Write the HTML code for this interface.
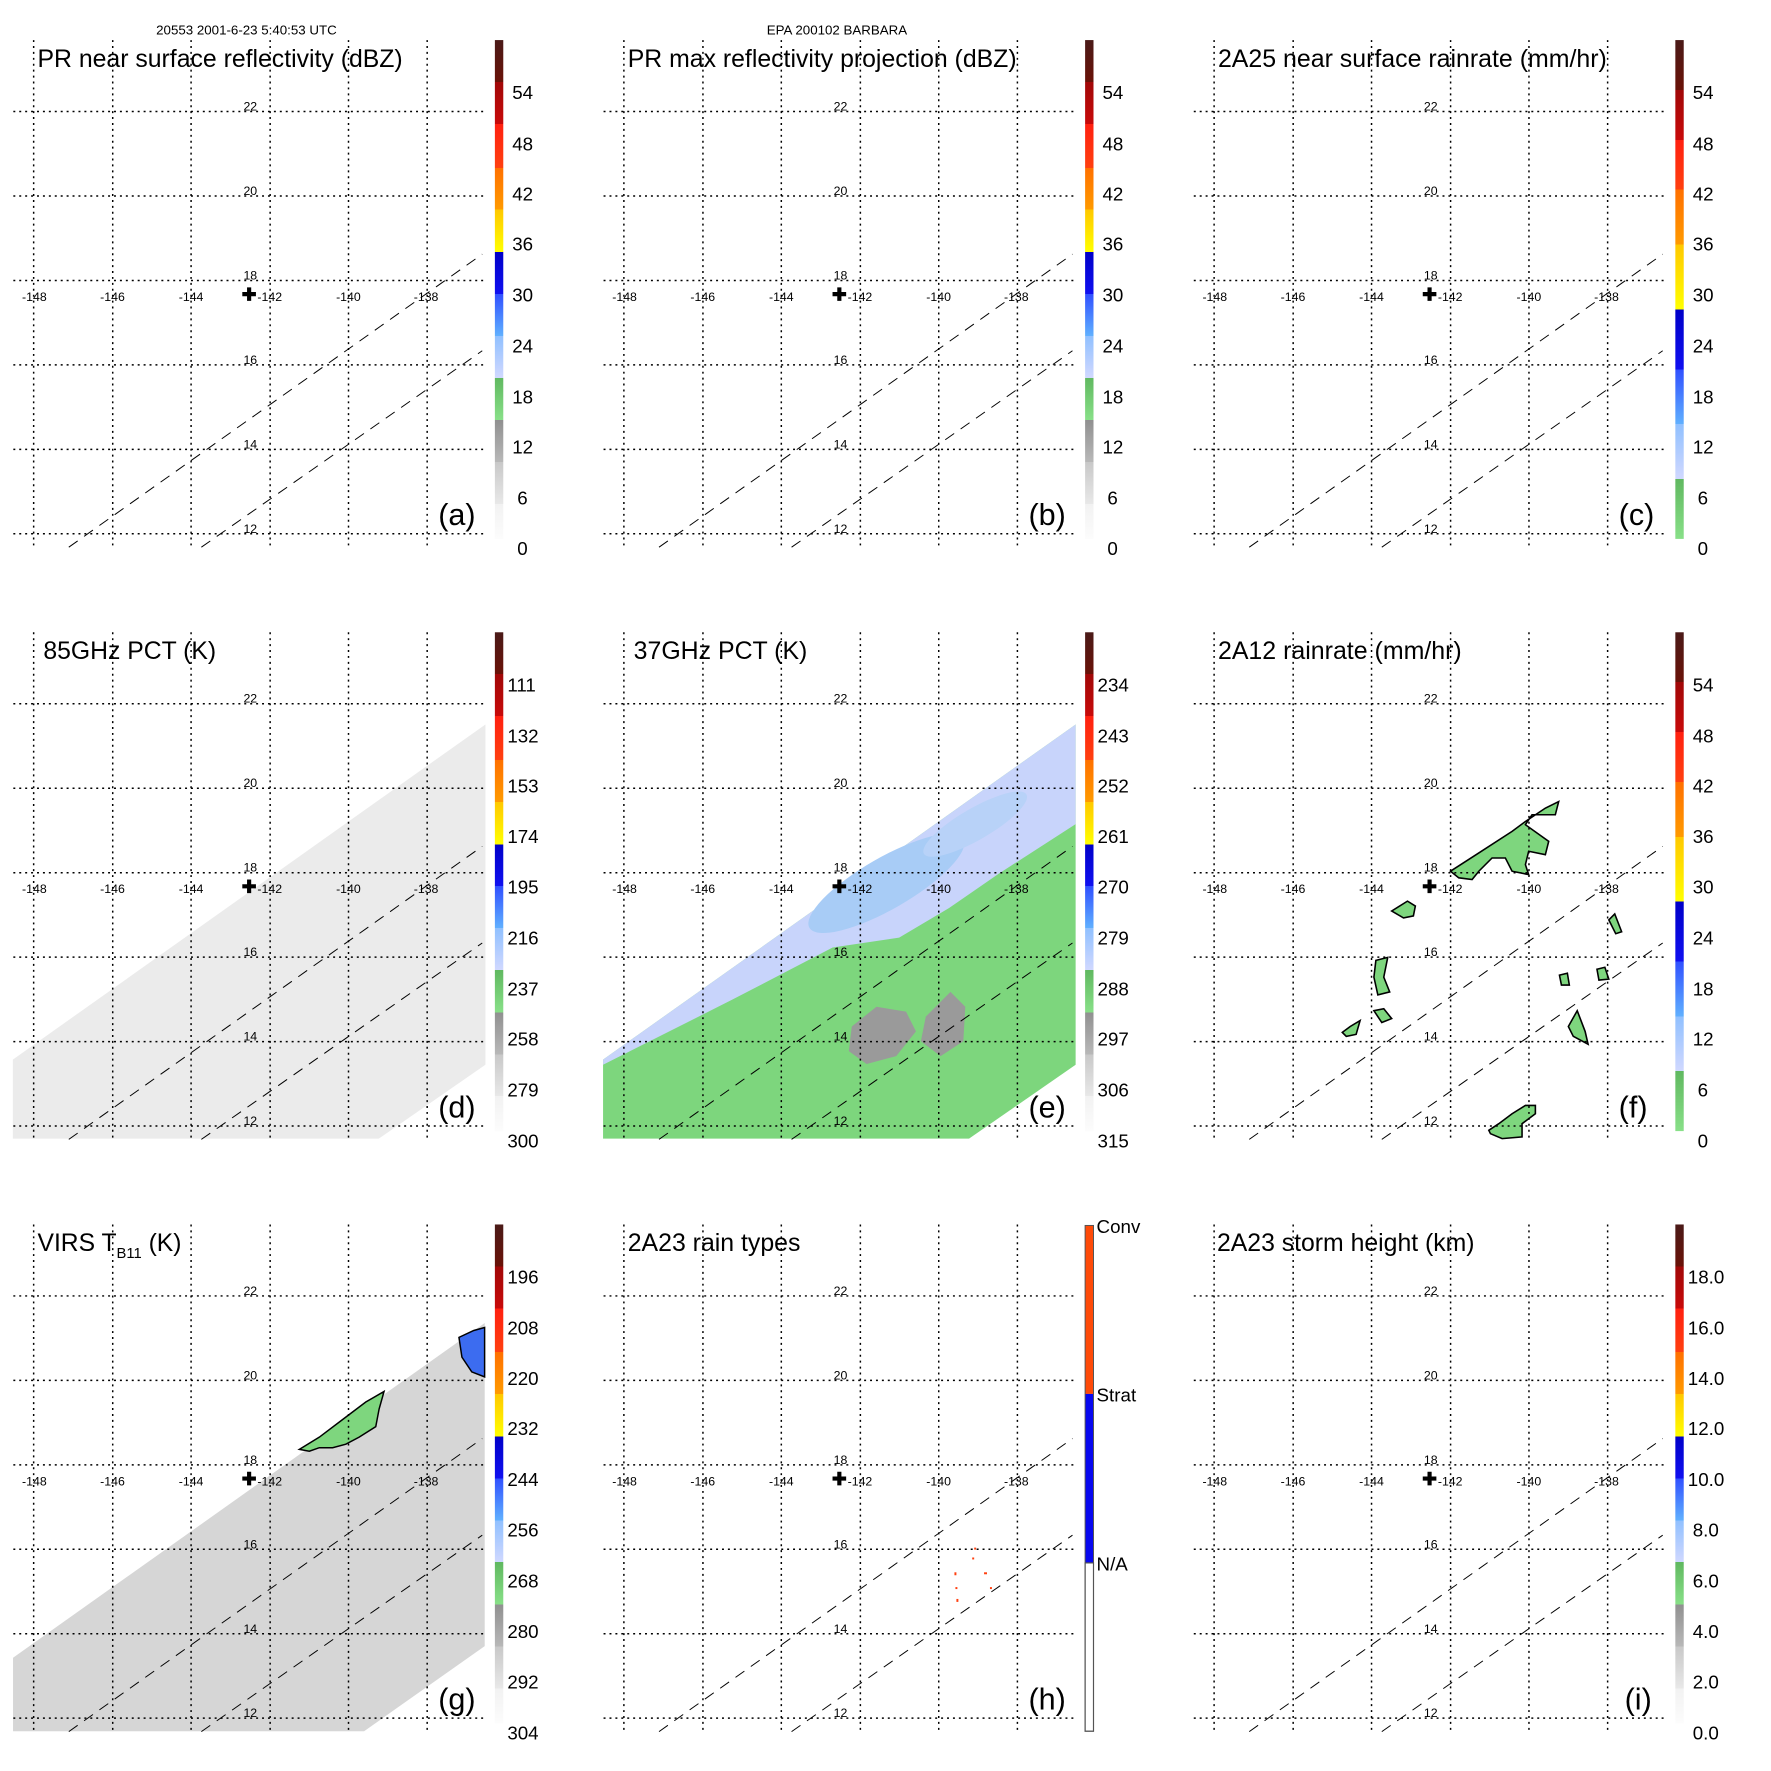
<!DOCTYPE html>
<html><head><meta charset="utf-8"><style>
html,body{margin:0;padding:0;background:#fff}
svg{display:block}
text{font-family:"Liberation Sans",Arial,sans-serif;fill:#000}
.s{font-size:12.5px;text-anchor:middle}
.c{font-size:19px}
.t{font-size:25px}
.l{font-size:31px}
.h{font-size:13.5px;text-anchor:middle}
</style></head><body>
<svg width="1771" height="1771" viewBox="0 0 1771 1771" xmlns="http://www.w3.org/2000/svg">
<defs>
<linearGradient id="gz" x1="0" y1="0" x2="0" y2="1">
<stop offset="0" stop-color="#4a1a18"/><stop offset=".084" stop-color="#6a1208"/>
<stop offset=".084" stop-color="#a00808"/><stop offset=".168" stop-color="#c80a0a"/>
<stop offset=".168" stop-color="#ff2010"/><stop offset=".256" stop-color="#ff4010"/>
<stop offset=".256" stop-color="#ff7000"/><stop offset=".34" stop-color="#ff9a00"/>
<stop offset=".34" stop-color="#ffc800"/><stop offset=".425" stop-color="#ffff00"/>
<stop offset=".425" stop-color="#0000c8"/><stop offset=".509" stop-color="#1010f0"/>
<stop offset=".509" stop-color="#3050ff"/><stop offset=".593" stop-color="#60b0ff"/>
<stop offset=".593" stop-color="#90c0ff"/><stop offset=".677" stop-color="#d0d8ff"/>
<stop offset=".677" stop-color="#60b860"/><stop offset=".762" stop-color="#88e088"/>
<stop offset=".762" stop-color="#909090"/><stop offset=".846" stop-color="#b8b8b8"/>
<stop offset=".846" stop-color="#c8c8c8"/><stop offset=".93" stop-color="#e8e8e8"/>
<stop offset=".93" stop-color="#f2f2f2"/><stop offset="1" stop-color="#fcfcfc"/>
</linearGradient>
<linearGradient id="gr" x1="0" y1="0" x2="0" y2="1">
<stop offset="0" stop-color="#4a1a18"/><stop offset=".1" stop-color="#6a1208"/>
<stop offset=".1" stop-color="#a00808"/><stop offset=".2" stop-color="#c80a0a"/>
<stop offset=".2" stop-color="#ff2010"/><stop offset=".3" stop-color="#ff4010"/>
<stop offset=".3" stop-color="#ff7000"/><stop offset=".41" stop-color="#ff9a00"/>
<stop offset=".41" stop-color="#ffc800"/><stop offset=".54" stop-color="#ffff00"/>
<stop offset=".54" stop-color="#0000c8"/><stop offset=".66" stop-color="#1010f0"/>
<stop offset=".66" stop-color="#3050ff"/><stop offset=".77" stop-color="#60b0ff"/>
<stop offset=".77" stop-color="#90c0ff"/><stop offset=".88" stop-color="#d0d8ff"/>
<stop offset=".88" stop-color="#60b860"/><stop offset="1" stop-color="#88e088"/>
</linearGradient>
<g id="grid" fill="none" stroke="#000">
<g stroke-width="1.5" stroke-dasharray="2,4">
<line x1="34.1" y1="40.6" x2="34.1" y2="554.4"/><line x1="114.2" y1="40.6" x2="114.2" y2="554.4"/>
<line x1="193.6" y1="40.6" x2="193.6" y2="554.4"/><line x1="273.7" y1="40.6" x2="273.7" y2="554.4"/>
<line x1="353.1" y1="40.6" x2="353.1" y2="554.4"/><line x1="432.8" y1="40.6" x2="432.8" y2="554.4"/>
<line x1="13.5" y1="113" x2="491.7" y2="113"/><line x1="13.5" y1="198.6" x2="491.7" y2="198.6"/>
<line x1="13.5" y1="284.2" x2="491.7" y2="284.2"/><line x1="13.5" y1="369.7" x2="491.7" y2="369.7"/>
<line x1="13.5" y1="455.3" x2="491.7" y2="455.3"/><line x1="13.5" y1="540.8" x2="491.7" y2="540.8"/>
</g>
<g stroke-width="1" stroke-dasharray="11,8">
<line x1="69.7" y1="554.4" x2="488.6" y2="257.5"/>
<line x1="204" y1="554.4" x2="488.6" y2="355.4"/>
</g>
<path d="M245.5 298H259.3M252.4 291.1V304.9" stroke-width="4.2"/>
</g>
</defs>
<rect width="1771" height="1771" fill="#fff"/>
<g transform="scale(0.987)">

<g transform="translate(0,600)">
<polygon points="13,473.6 491.8,134 491.8,478.8 383.8,553.6 13,553.6" fill="#ebebeb"/>
</g>
<g transform="translate(598,600)">
<polygon points="13,473.6 491.8,134 491.8,478.8 383.8,553.6 13,553.6" fill="#7dd67d"/>
<polygon points="13,473.6 491.8,134 491.8,235 414.2,285 363.6,320 313,350 245.6,360 144.4,412.6 13,478.8" fill="#c8d4fb"/>
<ellipse cx="300" cy="295" rx="90" ry="26" transform="rotate(-30 300 295)" fill="#a8ccf6"/>
<ellipse cx="390" cy="235" rx="60" ry="16" transform="rotate(-30 390 235)" fill="#b8d2f8"/>
<polygon points="265,440 290,420 320,425 330,445 310,470 280,478 262,465" fill="#9a9a9a"/>
<polygon points="340,430 365,405 380,420 378,455 355,470 335,455" fill="#9a9a9a"/>
</g>
<g transform="translate(0,1200)">
<polygon points="13.2,479.6 491.1,140.4 491.1,467.8 368.9,554 13.2,554" fill="#d6d6d6"/>
<polygon points="303.3,268.5 323.5,256.1 347,238.3 370.6,220.5 389.1,209.8 384.1,227.6 380.7,245.4 363.9,256.1 350.4,263.2 337,266.8 323.5,266.8 313.4,270.3" fill="#7ed67e" stroke="#000" stroke-width="1.5"/>
<polygon points="465,155 480,148 491,145 491,195 478,190 468,175" fill="#3c6cf0" stroke="#000" stroke-width="1.5"/>
</g>
<g transform="translate(1196,600)" fill="#7ed67e" stroke="#000" stroke-width="1.6">
<polygon points="273.6,282.7 302.3,264.2 336,242.3 349.5,232.3 369.7,218.8 383.2,212.1 379.8,225.5 356.2,225.5 349.5,235.6 373.1,252.4 369.7,265.9 352.8,262.5 349.5,276 352.8,286.1 336,282.7 329.2,269.3 315.7,269.3 302.3,282.7 295.5,291.1 282,289.4"/>
<polygon points="312.4,545.2 322.5,538.5 336,528.4 349.5,520 359.6,520 359.6,528.4 346.1,538.5 346.1,551.9 325.9,553.6 314.1,548.6"/>
<polygon points="214,323 230,313 238,318 236,328 226,330"/>
<polygon points="198,373 210,370 206,390 212,405 200,408 196,390"/>
<polygon points="393,440 402,424 410,445 413,458 398,450"/>
<polygon points="196,424 206,422 214,432 204,436"/>
<polygon points="164,446 172,440 182,434 178,448 168,450"/>
<polygon points="434,332 440,326 447,344 441,346"/>
<polygon points="422,382 430,380 434,392 424,393"/>
<polygon points="384,388 392,386 394,398 386,398"/>
</g>
<g fill="#ff4010" transform="translate(598,1200)">
<rect x="389" y="368" width="2" height="2"/><rect x="387" y="378" width="2" height="2"/><rect x="369" y="393" width="2" height="3"/>
<rect x="370" y="408" width="2" height="2"/><rect x="371" y="420" width="2" height="3"/><rect x="399" y="393" width="3" height="2"/><rect x="405" y="408" width="2" height="2"/>
</g>

<use href="#grid"/>
<use href="#grid" transform="translate(598,0)"/>
<use href="#grid" transform="translate(1196,0)"/>
<use href="#grid" transform="translate(0,600)"/>
<use href="#grid" transform="translate(598,600)"/>
<use href="#grid" transform="translate(1196,600)"/>
<use href="#grid" transform="translate(0,1200)"/>
<use href="#grid" transform="translate(598,1200)"/>
<use href="#grid" transform="translate(1196,1200)"/>

<rect x="501.4" y="40.6" width="8.5" height="505.4" fill="url(#gz)"/>
<rect x="1099.4" y="40.6" width="8.5" height="505.4" fill="url(#gz)"/>
<rect x="1697.4" y="40.6" width="8.5" height="505.4" fill="url(#gr)"/>
<rect x="501.4" y="640.6" width="8.5" height="505.4" fill="url(#gz)"/>
<rect x="1099.4" y="640.6" width="8.5" height="505.4" fill="url(#gz)"/>
<rect x="1697.4" y="640.6" width="8.5" height="505.4" fill="url(#gr)"/>
<rect x="501.4" y="1240.6" width="8.5" height="505.4" fill="url(#gz)"/>
<rect x="1697.4" y="1240.6" width="8.5" height="505.4" fill="url(#gz)"/>
<rect x="1099.4" y="1241.6" width="8.5" height="170.7" fill="#ff4a08"/>
<rect x="1099.4" y="1412.3" width="8.5" height="171.2" fill="#0808f0"/>
<rect x="1099.4" y="1583.5" width="8.5" height="170.5" fill="#fff" stroke="#555" stroke-width="1.2"/>
<rect x="1099.4" y="1241.6" width="8.5" height="512.4" fill="none" stroke="#555" stroke-width="1"/>

<text class="h" x="249.7" y="34.8">20553 2001-6-23 5:40:53 UTC</text>
<text class="h" x="848" y="34.8">EPA 200102 BARBARA</text>

<g transform="translate(0,0)">
<text class="t" x="38" y="67.7" textLength="370" lengthAdjust="spacingAndGlyphs">PR near surface reflectivity (dBZ)</text>
<text class="l" x="444" y="532">(a)</text>
<text class="s" x="253.6" y="112">22</text><text class="s" x="253.6" y="197.6">20</text><text class="s" x="253.6" y="283.2">18</text><text class="s" x="253.6" y="368.7">16</text><text class="s" x="253.6" y="454.3">14</text><text class="s" x="253.6" y="539.8">12</text>
<text class="s" x="34.8" y="305">-148</text><text class="s" x="114" y="305">-146</text><text class="s" x="193.6" y="305">-144</text><text class="s" x="273.3" y="305">-142</text><text class="s" x="353" y="305">-140</text><text class="s" x="431.7" y="305">-138</text>
<text class="c" x="519" y="100.5">54</text><text class="c" x="519" y="152.3">48</text><text class="c" x="519" y="203">42</text><text class="c" x="519" y="254">36</text><text class="c" x="519" y="305.5">30</text><text class="c" x="519" y="357">24</text><text class="c" x="519" y="408.6">18</text><text class="c" x="519" y="459.5">12</text><text class="c" x="524" y="511">6</text><text class="c" x="524" y="562.5">0</text>
</g>
<g transform="translate(598,0)">
<text class="t" x="38" y="67.7" textLength="394" lengthAdjust="spacingAndGlyphs">PR max reflectivity projection (dBZ)</text>
<text class="l" x="444" y="532">(b)</text>
<text class="s" x="253.6" y="112">22</text><text class="s" x="253.6" y="197.6">20</text><text class="s" x="253.6" y="283.2">18</text><text class="s" x="253.6" y="368.7">16</text><text class="s" x="253.6" y="454.3">14</text><text class="s" x="253.6" y="539.8">12</text>
<text class="s" x="34.8" y="305">-148</text><text class="s" x="114" y="305">-146</text><text class="s" x="193.6" y="305">-144</text><text class="s" x="273.3" y="305">-142</text><text class="s" x="353" y="305">-140</text><text class="s" x="431.7" y="305">-138</text>
<text class="c" x="519" y="100.5">54</text><text class="c" x="519" y="152.3">48</text><text class="c" x="519" y="203">42</text><text class="c" x="519" y="254">36</text><text class="c" x="519" y="305.5">30</text><text class="c" x="519" y="357">24</text><text class="c" x="519" y="408.6">18</text><text class="c" x="519" y="459.5">12</text><text class="c" x="524" y="511">6</text><text class="c" x="524" y="562.5">0</text>
</g>
<g transform="translate(1196,0)">
<text class="t" x="38" y="67.7" textLength="394" lengthAdjust="spacingAndGlyphs">2A25 near surface rainrate (mm/hr)</text>
<text class="l" x="444" y="532">(c)</text>
<text class="s" x="253.6" y="112">22</text><text class="s" x="253.6" y="197.6">20</text><text class="s" x="253.6" y="283.2">18</text><text class="s" x="253.6" y="368.7">16</text><text class="s" x="253.6" y="454.3">14</text><text class="s" x="253.6" y="539.8">12</text>
<text class="s" x="34.8" y="305">-148</text><text class="s" x="114" y="305">-146</text><text class="s" x="193.6" y="305">-144</text><text class="s" x="273.3" y="305">-142</text><text class="s" x="353" y="305">-140</text><text class="s" x="431.7" y="305">-138</text>
<text class="c" x="519" y="100.5">54</text><text class="c" x="519" y="152.3">48</text><text class="c" x="519" y="203">42</text><text class="c" x="519" y="254">36</text><text class="c" x="519" y="305.5">30</text><text class="c" x="519" y="357">24</text><text class="c" x="519" y="408.6">18</text><text class="c" x="519" y="459.5">12</text><text class="c" x="524" y="511">6</text><text class="c" x="524" y="562.5">0</text>
</g>
<g transform="translate(0,600)">
<text class="t" x="44" y="67.7" textLength="175" lengthAdjust="spacingAndGlyphs">85GHz PCT (K)</text>
<text class="l" x="444" y="532">(d)</text>
<text class="s" x="253.6" y="112">22</text><text class="s" x="253.6" y="197.6">20</text><text class="s" x="253.6" y="283.2">18</text><text class="s" x="253.6" y="368.7">16</text><text class="s" x="253.6" y="454.3">14</text><text class="s" x="253.6" y="539.8">12</text>
<text class="s" x="34.8" y="305">-148</text><text class="s" x="114" y="305">-146</text><text class="s" x="193.6" y="305">-144</text><text class="s" x="273.3" y="305">-142</text><text class="s" x="353" y="305">-140</text><text class="s" x="431.7" y="305">-138</text>
<text class="c" x="514" y="100.5">111</text><text class="c" x="514" y="152.3">132</text><text class="c" x="514" y="203">153</text><text class="c" x="514" y="254">174</text><text class="c" x="514" y="305.5">195</text><text class="c" x="514" y="357">216</text><text class="c" x="514" y="408.6">237</text><text class="c" x="514" y="459.5">258</text><text class="c" x="514" y="511">279</text><text class="c" x="514" y="562.5">300</text>
</g>
<g transform="translate(598,600)">
<text class="t" x="44" y="67.7" textLength="176" lengthAdjust="spacingAndGlyphs">37GHz PCT (K)</text>
<text class="l" x="444" y="532">(e)</text>
<text class="s" x="253.6" y="112">22</text><text class="s" x="253.6" y="197.6">20</text><text class="s" x="253.6" y="283.2">18</text><text class="s" x="253.6" y="368.7">16</text><text class="s" x="253.6" y="454.3">14</text><text class="s" x="253.6" y="539.8">12</text>
<text class="s" x="34.8" y="305">-148</text><text class="s" x="114" y="305">-146</text><text class="s" x="193.6" y="305">-144</text><text class="s" x="273.3" y="305">-142</text><text class="s" x="353" y="305">-140</text><text class="s" x="431.7" y="305">-138</text>
<text class="c" x="514" y="100.5">234</text><text class="c" x="514" y="152.3">243</text><text class="c" x="514" y="203">252</text><text class="c" x="514" y="254">261</text><text class="c" x="514" y="305.5">270</text><text class="c" x="514" y="357">279</text><text class="c" x="514" y="408.6">288</text><text class="c" x="514" y="459.5">297</text><text class="c" x="514" y="511">306</text><text class="c" x="514" y="562.5">315</text>
</g>
<g transform="translate(1196,600)">
<text class="t" x="38" y="67.7" textLength="247" lengthAdjust="spacingAndGlyphs">2A12 rainrate (mm/hr)</text>
<text class="l" x="444" y="532">(f)</text>
<text class="s" x="253.6" y="112">22</text><text class="s" x="253.6" y="197.6">20</text><text class="s" x="253.6" y="283.2">18</text><text class="s" x="253.6" y="368.7">16</text><text class="s" x="253.6" y="454.3">14</text><text class="s" x="253.6" y="539.8">12</text>
<text class="s" x="34.8" y="305">-148</text><text class="s" x="114" y="305">-146</text><text class="s" x="193.6" y="305">-144</text><text class="s" x="273.3" y="305">-142</text><text class="s" x="353" y="305">-140</text><text class="s" x="431.7" y="305">-138</text>
<text class="c" x="519" y="100.5">54</text><text class="c" x="519" y="152.3">48</text><text class="c" x="519" y="203">42</text><text class="c" x="519" y="254">36</text><text class="c" x="519" y="305.5">30</text><text class="c" x="519" y="357">24</text><text class="c" x="519" y="408.6">18</text><text class="c" x="519" y="459.5">12</text><text class="c" x="524" y="511">6</text><text class="c" x="524" y="562.5">0</text>
</g>
<g transform="translate(0,1200)">
<text class="t" x="38" y="67.7">VIRS T<tspan font-size="15" dy="7">B11</tspan><tspan dy="-7"> (K)</tspan></text>
<text class="l" x="444" y="532">(g)</text>
<text class="s" x="253.6" y="112">22</text><text class="s" x="253.6" y="197.6">20</text><text class="s" x="253.6" y="283.2">18</text><text class="s" x="253.6" y="368.7">16</text><text class="s" x="253.6" y="454.3">14</text><text class="s" x="253.6" y="539.8">12</text>
<text class="s" x="34.8" y="305">-148</text><text class="s" x="114" y="305">-146</text><text class="s" x="193.6" y="305">-144</text><text class="s" x="273.3" y="305">-142</text><text class="s" x="353" y="305">-140</text><text class="s" x="431.7" y="305">-138</text>
<text class="c" x="514" y="100.5">196</text><text class="c" x="514" y="152.3">208</text><text class="c" x="514" y="203">220</text><text class="c" x="514" y="254">232</text><text class="c" x="514" y="305.5">244</text><text class="c" x="514" y="357">256</text><text class="c" x="514" y="408.6">268</text><text class="c" x="514" y="459.5">280</text><text class="c" x="514" y="511">292</text><text class="c" x="514" y="562.5">304</text>
</g>
<g transform="translate(598,1200)">
<text class="t" x="38" y="67.7" textLength="175" lengthAdjust="spacingAndGlyphs">2A23 rain types</text>
<text class="l" x="444" y="532">(h)</text>
<text class="s" x="253.6" y="112">22</text><text class="s" x="253.6" y="197.6">20</text><text class="s" x="253.6" y="283.2">18</text><text class="s" x="253.6" y="368.7">16</text><text class="s" x="253.6" y="454.3">14</text><text class="s" x="253.6" y="539.8">12</text>
<text class="s" x="34.8" y="305">-148</text><text class="s" x="114" y="305">-146</text><text class="s" x="193.6" y="305">-144</text><text class="s" x="273.3" y="305">-142</text><text class="s" x="353" y="305">-140</text><text class="s" x="431.7" y="305">-138</text>
<text class="c" x="513" y="49">Conv</text><text class="c" x="513" y="220">Strat</text><text class="c" x="513" y="391">N/A</text>
</g>
<g transform="translate(1196,1200)">
<text class="t" x="37" y="67.7" textLength="261" lengthAdjust="spacingAndGlyphs">2A23 storm height (km)</text>
<text class="l" x="450" y="532">(i)</text>
<text class="s" x="253.6" y="112">22</text><text class="s" x="253.6" y="197.6">20</text><text class="s" x="253.6" y="283.2">18</text><text class="s" x="253.6" y="368.7">16</text><text class="s" x="253.6" y="454.3">14</text><text class="s" x="253.6" y="539.8">12</text>
<text class="s" x="34.8" y="305">-148</text><text class="s" x="114" y="305">-146</text><text class="s" x="193.6" y="305">-144</text><text class="s" x="273.3" y="305">-142</text><text class="s" x="353" y="305">-140</text><text class="s" x="431.7" y="305">-138</text>
<text class="c" x="514" y="100.5">18.0</text><text class="c" x="514" y="152.3">16.0</text><text class="c" x="514" y="203">14.0</text><text class="c" x="514" y="254">12.0</text><text class="c" x="514" y="305.5">10.0</text><text class="c" x="519" y="357">8.0</text><text class="c" x="519" y="408.6">6.0</text><text class="c" x="519" y="459.5">4.0</text><text class="c" x="519" y="511">2.0</text><text class="c" x="519" y="562.5">0.0</text>
</g>
</g>
</svg>
</body></html>
